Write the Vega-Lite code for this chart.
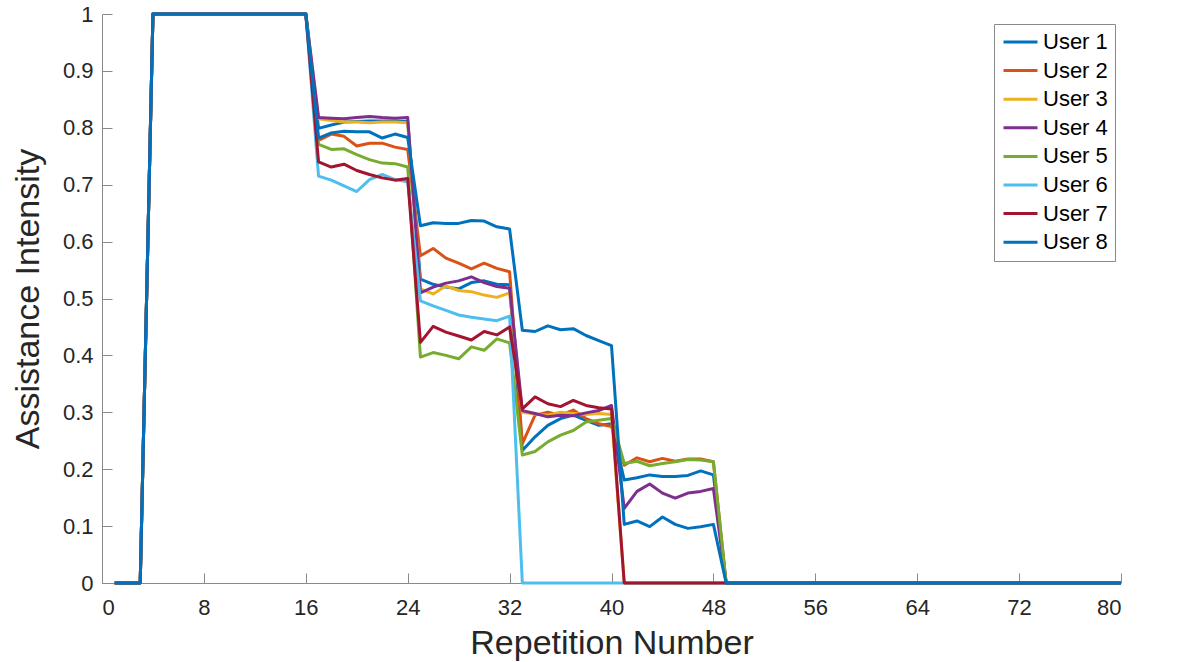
{
  "$schema": "https://vega.github.io/schema/vega-lite/v6.json",
  "autosize": {"type": "none"},
  "width": 1019,
  "height": 569,
  "padding": {"left": 102, "top": 14, "right": 75, "bottom": 79},
  "background": "white",
  "config": {
    "view": {"stroke": null},
    "axis": {
      "grid": false,
      "domainColor": "#8a8a8a",
      "domainWidth": 1,
      "tickColor": "#8a8a8a",
      "tickWidth": 1,
      "labelColor": "#262626",
      "labelFont": "Liberation Sans",
      "labelFontSize": 22,
      "titleFont": "Liberation Sans",
      "titleFontSize": 34,
      "titleFontWeight": "normal",
      "titleColor": "#262626"
    },
    "legend": {
      "labelFont": "Liberation Sans",
      "labelFontSize": 22,
      "labelColor": "#000000"
    }
  },
  "data": {
    "values": [
      {"r":1,"User 1":0,"User 2":0,"User 3":0,"User 4":0,"User 5":0,"User 6":0,"User 7":0,"User 8":0},
      {"r":2,"User 1":0,"User 2":0,"User 3":0,"User 4":0,"User 5":0,"User 6":0,"User 7":0,"User 8":0},
      {"r":3,"User 1":0,"User 2":0,"User 3":0,"User 4":0,"User 5":0,"User 6":0,"User 7":0,"User 8":0},
      {"r":4,"User 1":1,"User 2":1,"User 3":1,"User 4":1,"User 5":1,"User 6":1,"User 7":1,"User 8":1},
      {"r":5,"User 1":1,"User 2":1,"User 3":1,"User 4":1,"User 5":1,"User 6":1,"User 7":1,"User 8":1},
      {"r":6,"User 1":1,"User 2":1,"User 3":1,"User 4":1,"User 5":1,"User 6":1,"User 7":1,"User 8":1},
      {"r":7,"User 1":1,"User 2":1,"User 3":1,"User 4":1,"User 5":1,"User 6":1,"User 7":1,"User 8":1},
      {"r":8,"User 1":1,"User 2":1,"User 3":1,"User 4":1,"User 5":1,"User 6":1,"User 7":1,"User 8":1},
      {"r":9,"User 1":1,"User 2":1,"User 3":1,"User 4":1,"User 5":1,"User 6":1,"User 7":1,"User 8":1},
      {"r":10,"User 1":1,"User 2":1,"User 3":1,"User 4":1,"User 5":1,"User 6":1,"User 7":1,"User 8":1},
      {"r":11,"User 1":1,"User 2":1,"User 3":1,"User 4":1,"User 5":1,"User 6":1,"User 7":1,"User 8":1},
      {"r":12,"User 1":1,"User 2":1,"User 3":1,"User 4":1,"User 5":1,"User 6":1,"User 7":1,"User 8":1},
      {"r":13,"User 1":1,"User 2":1,"User 3":1,"User 4":1,"User 5":1,"User 6":1,"User 7":1,"User 8":1},
      {"r":14,"User 1":1,"User 2":1,"User 3":1,"User 4":1,"User 5":1,"User 6":1,"User 7":1,"User 8":1},
      {"r":15,"User 1":1,"User 2":1,"User 3":1,"User 4":1,"User 5":1,"User 6":1,"User 7":1,"User 8":1},
      {"r":16,"User 1":1,"User 2":1,"User 3":1,"User 4":1,"User 5":1,"User 6":1,"User 7":1,"User 8":1},
      {"r":17,"User 1":0.799,"User 2":0.778,"User 3":0.816,"User 4":0.818,"User 5":0.771,"User 6":0.715,"User 7":0.74,"User 8":0.782},
      {"r":18,"User 1":0.805,"User 2":0.789,"User 3":0.813,"User 4":0.817,"User 5":0.762,"User 6":0.708,"User 7":0.731,"User 8":0.791},
      {"r":19,"User 1":0.81,"User 2":0.785,"User 3":0.81,"User 4":0.816,"User 5":0.763,"User 6":0.698,"User 7":0.736,"User 8":0.794},
      {"r":20,"User 1":0.811,"User 2":0.768,"User 3":0.81,"User 4":0.818,"User 5":0.753,"User 6":0.688,"User 7":0.725,"User 8":0.793},
      {"r":21,"User 1":0.812,"User 2":0.773,"User 3":0.809,"User 4":0.82,"User 5":0.744,"User 6":0.709,"User 7":0.718,"User 8":0.793},
      {"r":22,"User 1":0.812,"User 2":0.773,"User 3":0.81,"User 4":0.818,"User 5":0.738,"User 6":0.718,"User 7":0.712,"User 8":0.782},
      {"r":23,"User 1":0.812,"User 2":0.766,"User 3":0.81,"User 4":0.817,"User 5":0.737,"User 6":0.709,"User 7":0.708,"User 8":0.789},
      {"r":24,"User 1":0.811,"User 2":0.762,"User 3":0.809,"User 4":0.818,"User 5":0.731,"User 6":0.705,"User 7":0.711,"User 8":0.783},
      {"r":25,"User 1":0.534,"User 2":0.575,"User 3":0.517,"User 4":0.51,"User 5":0.397,"User 6":0.496,"User 7":0.423,"User 8":0.628},
      {"r":26,"User 1":0.525,"User 2":0.588,"User 3":0.508,"User 4":0.52,"User 5":0.405,"User 6":0.487,"User 7":0.451,"User 8":0.633},
      {"r":27,"User 1":0.52,"User 2":0.571,"User 3":0.522,"User 4":0.527,"User 5":0.4,"User 6":0.479,"User 7":0.441,"User 8":0.632},
      {"r":28,"User 1":0.517,"User 2":0.562,"User 3":0.514,"User 4":0.531,"User 5":0.394,"User 6":0.471,"User 7":0.434,"User 8":0.632},
      {"r":29,"User 1":0.528,"User 2":0.552,"User 3":0.512,"User 4":0.538,"User 5":0.415,"User 6":0.467,"User 7":0.427,"User 8":0.637},
      {"r":30,"User 1":0.531,"User 2":0.562,"User 3":0.506,"User 4":0.528,"User 5":0.409,"User 6":0.464,"User 7":0.442,"User 8":0.636},
      {"r":31,"User 1":0.525,"User 2":0.553,"User 3":0.502,"User 4":0.521,"User 5":0.429,"User 6":0.461,"User 7":0.436,"User 8":0.626},
      {"r":32,"User 1":0.524,"User 2":0.547,"User 3":0.51,"User 4":0.518,"User 5":0.422,"User 6":0.469,"User 7":0.45,"User 8":0.622},
      {"r":33,"User 1":0.233,"User 2":0.245,"User 3":0.3,"User 4":0.303,"User 5":0.225,"User 6":0,"User 7":0.306,"User 8":0.444},
      {"r":34,"User 1":0.257,"User 2":0.295,"User 3":0.297,"User 4":0.298,"User 5":0.231,"User 6":0,"User 7":0.327,"User 8":0.442},
      {"r":35,"User 1":0.277,"User 2":0.3,"User 3":0.295,"User 4":0.292,"User 5":0.248,"User 6":0,"User 7":0.315,"User 8":0.452},
      {"r":36,"User 1":0.289,"User 2":0.295,"User 3":0.3,"User 4":0.295,"User 5":0.26,"User 6":0,"User 7":0.31,"User 8":0.445},
      {"r":37,"User 1":0.295,"User 2":0.304,"User 3":0.298,"User 4":0.294,"User 5":0.268,"User 6":0,"User 7":0.321,"User 8":0.447},
      {"r":38,"User 1":0.286,"User 2":0.289,"User 3":0.296,"User 4":0.299,"User 5":0.283,"User 6":0,"User 7":0.312,"User 8":0.435},
      {"r":39,"User 1":0.277,"User 2":0.28,"User 3":0.298,"User 4":0.303,"User 5":0.286,"User 6":0,"User 7":0.308,"User 8":0.426},
      {"r":40,"User 1":0.28,"User 2":0.275,"User 3":0.296,"User 4":0.312,"User 5":0.289,"User 6":0,"User 7":0.306,"User 8":0.417},
      {"r":41,"User 1":0.181,"User 2":0.207,"User 3":0,"User 4":0.131,"User 5":0.21,"User 6":0,"User 7":0,"User 8":0.103},
      {"r":42,"User 1":0.185,"User 2":0.22,"User 3":0,"User 4":0.161,"User 5":0.214,"User 6":0,"User 7":0,"User 8":0.109},
      {"r":43,"User 1":0.19,"User 2":0.213,"User 3":0,"User 4":0.174,"User 5":0.206,"User 6":0,"User 7":0,"User 8":0.099},
      {"r":44,"User 1":0.187,"User 2":0.219,"User 3":0,"User 4":0.158,"User 5":0.21,"User 6":0,"User 7":0,"User 8":0.116},
      {"r":45,"User 1":0.187,"User 2":0.214,"User 3":0,"User 4":0.149,"User 5":0.213,"User 6":0,"User 7":0,"User 8":0.103},
      {"r":46,"User 1":0.189,"User 2":0.218,"User 3":0,"User 4":0.158,"User 5":0.217,"User 6":0,"User 7":0,"User 8":0.096},
      {"r":47,"User 1":0.197,"User 2":0.218,"User 3":0,"User 4":0.161,"User 5":0.216,"User 6":0,"User 7":0,"User 8":0.099},
      {"r":48,"User 1":0.19,"User 2":0.213,"User 3":0,"User 4":0.166,"User 5":0.213,"User 6":0,"User 7":0,"User 8":0.103},
      {"r":49,"User 1":0,"User 2":0,"User 3":0,"User 4":0,"User 5":0,"User 6":0,"User 7":0,"User 8":0},
      {"r":50,"User 1":0,"User 2":0,"User 3":0,"User 4":0,"User 5":0,"User 6":0,"User 7":0,"User 8":0},
      {"r":51,"User 1":0,"User 2":0,"User 3":0,"User 4":0,"User 5":0,"User 6":0,"User 7":0,"User 8":0},
      {"r":52,"User 1":0,"User 2":0,"User 3":0,"User 4":0,"User 5":0,"User 6":0,"User 7":0,"User 8":0},
      {"r":53,"User 1":0,"User 2":0,"User 3":0,"User 4":0,"User 5":0,"User 6":0,"User 7":0,"User 8":0},
      {"r":54,"User 1":0,"User 2":0,"User 3":0,"User 4":0,"User 5":0,"User 6":0,"User 7":0,"User 8":0},
      {"r":55,"User 1":0,"User 2":0,"User 3":0,"User 4":0,"User 5":0,"User 6":0,"User 7":0,"User 8":0},
      {"r":56,"User 1":0,"User 2":0,"User 3":0,"User 4":0,"User 5":0,"User 6":0,"User 7":0,"User 8":0},
      {"r":57,"User 1":0,"User 2":0,"User 3":0,"User 4":0,"User 5":0,"User 6":0,"User 7":0,"User 8":0},
      {"r":58,"User 1":0,"User 2":0,"User 3":0,"User 4":0,"User 5":0,"User 6":0,"User 7":0,"User 8":0},
      {"r":59,"User 1":0,"User 2":0,"User 3":0,"User 4":0,"User 5":0,"User 6":0,"User 7":0,"User 8":0},
      {"r":60,"User 1":0,"User 2":0,"User 3":0,"User 4":0,"User 5":0,"User 6":0,"User 7":0,"User 8":0},
      {"r":61,"User 1":0,"User 2":0,"User 3":0,"User 4":0,"User 5":0,"User 6":0,"User 7":0,"User 8":0},
      {"r":62,"User 1":0,"User 2":0,"User 3":0,"User 4":0,"User 5":0,"User 6":0,"User 7":0,"User 8":0},
      {"r":63,"User 1":0,"User 2":0,"User 3":0,"User 4":0,"User 5":0,"User 6":0,"User 7":0,"User 8":0},
      {"r":64,"User 1":0,"User 2":0,"User 3":0,"User 4":0,"User 5":0,"User 6":0,"User 7":0,"User 8":0},
      {"r":65,"User 1":0,"User 2":0,"User 3":0,"User 4":0,"User 5":0,"User 6":0,"User 7":0,"User 8":0},
      {"r":66,"User 1":0,"User 2":0,"User 3":0,"User 4":0,"User 5":0,"User 6":0,"User 7":0,"User 8":0},
      {"r":67,"User 1":0,"User 2":0,"User 3":0,"User 4":0,"User 5":0,"User 6":0,"User 7":0,"User 8":0},
      {"r":68,"User 1":0,"User 2":0,"User 3":0,"User 4":0,"User 5":0,"User 6":0,"User 7":0,"User 8":0},
      {"r":69,"User 1":0,"User 2":0,"User 3":0,"User 4":0,"User 5":0,"User 6":0,"User 7":0,"User 8":0},
      {"r":70,"User 1":0,"User 2":0,"User 3":0,"User 4":0,"User 5":0,"User 6":0,"User 7":0,"User 8":0},
      {"r":71,"User 1":0,"User 2":0,"User 3":0,"User 4":0,"User 5":0,"User 6":0,"User 7":0,"User 8":0},
      {"r":72,"User 1":0,"User 2":0,"User 3":0,"User 4":0,"User 5":0,"User 6":0,"User 7":0,"User 8":0},
      {"r":73,"User 1":0,"User 2":0,"User 3":0,"User 4":0,"User 5":0,"User 6":0,"User 7":0,"User 8":0},
      {"r":74,"User 1":0,"User 2":0,"User 3":0,"User 4":0,"User 5":0,"User 6":0,"User 7":0,"User 8":0},
      {"r":75,"User 1":0,"User 2":0,"User 3":0,"User 4":0,"User 5":0,"User 6":0,"User 7":0,"User 8":0},
      {"r":76,"User 1":0,"User 2":0,"User 3":0,"User 4":0,"User 5":0,"User 6":0,"User 7":0,"User 8":0},
      {"r":77,"User 1":0,"User 2":0,"User 3":0,"User 4":0,"User 5":0,"User 6":0,"User 7":0,"User 8":0},
      {"r":78,"User 1":0,"User 2":0,"User 3":0,"User 4":0,"User 5":0,"User 6":0,"User 7":0,"User 8":0},
      {"r":79,"User 1":0,"User 2":0,"User 3":0,"User 4":0,"User 5":0,"User 6":0,"User 7":0,"User 8":0},
      {"r":80,"User 1":0,"User 2":0,"User 3":0,"User 4":0,"User 5":0,"User 6":0,"User 7":0,"User 8":0}
    ]
  },
  "transform": [
    {"fold": ["User 1","User 2","User 3","User 4","User 5","User 6","User 7","User 8"], "as": ["user","value"]}
  ],
  "mark": {"type": "line", "strokeWidth": 3, "strokeJoin": "round", "strokeCap": "butt"},
  "encoding": {
    "x": {
      "field": "r", "type": "quantitative",
      "scale": {"domain": [0, 80], "nice": false, "zero": false},
      "axis": {"values": [0,8,16,24,32,40,48,56,64,72,80], "tickSize": -10, "labelPadding": 24, "title": "Repetition Number", "titlePadding": 8}
    },
    "y": {
      "field": "value", "type": "quantitative",
      "scale": {"domain": [0, 1], "nice": false},
      "axis": {"values": [0,0.1,0.2,0.3,0.4,0.5,0.6,0.7,0.8,0.9,1], "format": "~g", "tickSize": -10, "labelPadding": 19, "title": "Assistance Intensity", "titlePadding": 17}
    },
    "color": {
      "field": "user", "type": "nominal",
      "scale": {
        "domain": ["User 1","User 2","User 3","User 4","User 5","User 6","User 7","User 8"],
        "range": ["#0072BD","#D95319","#EDB120","#7E2F8E","#77AC30","#4DBEEE","#A2142F","#0072BD"]
      },
      "legend": {
        "title": null,
        "orient": "none",
        "legendX": 892,
        "legendY": 10,
        "symbolType": "M-1,0H3",
        "symbolSize": 289,
        "symbolStrokeWidth": 3,
        "labelOffset": 20,
        "rowPadding": 6.6,
        "padding": 7,
        "strokeColor": "#8a8a8a",
        "fillColor": "white"
      }
    }
  }
}
